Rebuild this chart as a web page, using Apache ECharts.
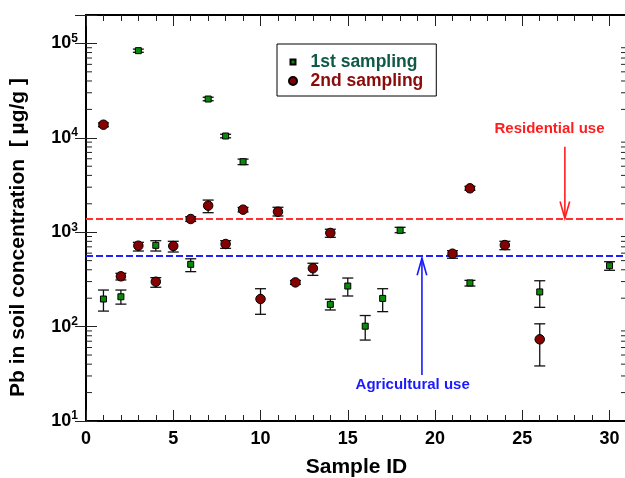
<!DOCTYPE html>
<html>
<head>
<meta charset="utf-8">
<script src="https://cdn.jsdelivr.net/npm/echarts@6/dist/echarts.min.js"></script>
<style>html,body{margin:0;padding:0;background:#fff}#c{width:625px;height:478px}</style>
</head>
<body>
<div id="c"></div>
<script>
// ---- data ----
const firstIds   = [1, 2, 3, 4, 6, 7, 8, 9, 14, 15, 16, 17, 18, 22, 26, 30];
const firstVals  = [196, 207, 83800, 726, 457, 25760, 10450, 5580, 172, 269, 101, 199, 1047, 290, 233, 442];
const firstLow   = [146, 173, 80500, 632, 382, 24700, 10000, 5200, 150, 211, 72, 144, 988, 269, 160, 395];
const firstHigh  = [244, 244, 87000, 813, 523, 26900, 10900, 5950, 195, 327, 131, 252, 1127, 309, 306, 487];

const secondIds  = [1, 2, 3, 4, 5, 6, 7, 8, 9, 10, 11, 12, 13, 14, 21, 22, 24, 26];
const secondVals = [13770, 341, 720, 299, 714, 1380, 1910, 750, 1733, 196, 1648, 294, 415, 982, 592, 2917, 731, 73.3];
const secondLow  = [13100, 312, 632, 261, 617, 1300, 1610, 675, 1640, 135, 1486, 280, 349, 883, 530, 2780, 653, 38.3];
const secondHigh = [14400, 367, 781, 330, 801, 1460, 2190, 813, 1830, 252, 1837, 308, 469, 1075, 637, 3060, 801, 107];

const residentialLimit  = 1400;
const agriculturalLimit = 560;

// arrows: [x, fromValue, toValue]
const arrowNames  = ['Residential use', 'Agricultural use'];
const arrowX      = [27.44, 19.25];
const arrowFrom   = [8050, 30.7];
const arrowTo     = [1400, 530];
const arrowLabelX = [26.56, 18.72];
const arrowLabelY = [12400, 24.0];
const arrowColors = ['#ff1e1e', '#1a1aff'];

const xTicks = [0, 5, 10, 15, 20, 25, 30];
const yMin = 10, yMax = 200000;
const logMinor = [];
for (let k = 1; k <= 5; k++) for (let m = 2; m <= 9; m++) { const v = m * Math.pow(10, k); if (v < yMax) logMinor.push(v); }

const FONT = '"Liberation Sans", Arial, sans-serif';

const chart = echarts.init(document.getElementById('c'));

function errRender(params, api) {
  const x = api.value(0), lo = api.value(1), hi = api.value(2);
  const p1 = api.coord([x, lo]), p2 = api.coord([x, hi]);
  const hw = 5.5;
  const st = { stroke: '#111', lineWidth: 1.3 };
  return { type: 'group', children: [
    { type: 'line', shape: { x1: p1[0], y1: p1[1], x2: p2[0], y2: p2[1] }, style: st },
    { type: 'line', shape: { x1: p1[0] - hw, y1: p1[1], x2: p1[0] + hw, y2: p1[1] }, style: st },
    { type: 'line', shape: { x1: p2[0] - hw, y1: p2[1], x2: p2[0] + hw, y2: p2[1] }, style: st }
  ]};
}

const axisCommon = {
  axisLine: { show: true, lineStyle: { color: '#000', width: 2 } },
  axisTick: { show: true, inside: true, length: 11, lineStyle: { color: '#222', width: 1 } },
  splitLine: { show: false }
};

chart.setOption({
  animation: false,
  grid: { left: 86, top: 15, width: 541, height: 406, containLabel: false, outerBoundsMode: 'none' },
  legend: {
    left: 277, top: 44, orient: 'vertical',
    padding: [9, 13, 6, 11], itemGap: 1, itemWidth: 25, itemHeight: 8,
    borderColor: '#000', borderWidth: 1,
    textStyle: { fontFamily: FONT, fontWeight: 'bold', fontSize: 17.5 },
    selectedMode: false,
    data: [
      { name: '1st sampling', icon: 'path://M0,0M8,8M1.5,1.5h5v5h-5z', textStyle: { color: '#0f5a46' } },
      { name: '2nd sampling', textStyle: { color: '#8b0a0a' } }
    ]
  },
  xAxis: [
    Object.assign({}, axisCommon, {
      type: 'value', min: 0, max: 31, interval: 5, position: 'bottom',
      minorTick: { show: true, splitNumber: 5, length: 6, lineStyle: { color: '#222', width: 1 } },
      axisLabel: { show: true, showMaxLabel: false, margin: 9, color: '#000', fontFamily: FONT, fontWeight: 'bold', fontSize: 18,
        formatter: v => (xTicks.indexOf(v) >= 0 ? String(v) : '') },
      name: 'Sample ID', nameLocation: 'middle', nameGap: 36,
      nameTextStyle: { color: '#000', fontFamily: FONT, fontWeight: 'bold', fontSize: 21 }
    }),
    Object.assign({}, axisCommon, {
      type: 'value', min: 0, max: 31, interval: 5, position: 'top',
      minorTick: { show: true, splitNumber: 5, length: 6, lineStyle: { color: '#222', width: 1 } },
      axisLabel: { show: false }
    })
  ],
  yAxis: [
    Object.assign({}, axisCommon, {
      type: 'log', logBase: 10, min: yMin, max: yMax, position: 'left',
      axisLabel: {
        show: true, margin: 8, color: '#000', fontFamily: FONT, fontWeight: 'bold',
        formatter: v => {
          const e = Math.log10(v);
          if (Math.abs(e - Math.round(e)) > 1e-6) return '';
          return '{b|10}{s|' + Math.round(e) + '}';
        },
        rich: {
          b: { fontFamily: FONT, fontWeight: 'bold', fontSize: 18, lineHeight: 22, color: '#000' },
          s: { fontFamily: FONT, fontWeight: 'bold', fontSize: 12, lineHeight: 12, verticalAlign: 'top', color: '#000' }
        }
      }
    }),
    Object.assign({}, axisCommon, {
      type: 'log', logBase: 10, min: yMin, max: yMax, position: 'right',
      axisLabel: { show: false }
    })
  ],
  graphic: [{
    type: 'text', left: 8, top: 78, rotation: Math.PI / 2,
    style: { text: 'Pb in soil concentration  [ µg/g ]', fill: '#000', font: 'bold 21px ' + FONT }
  }],
  series: [
    {
      name: 'minorLog', type: 'custom', silent: true, z: 1,
      data: logMinor.map(v => [0, v]),
      renderItem: (params, api) => {
        const cs = params.coordSys;
        const y = api.coord([0, api.value(1)])[1];
        const st = { stroke: '#222', lineWidth: 1 };
        return { type: 'group', children: [
          { type: 'line', shape: { x1: cs.x, y1: y, x2: cs.x + 6, y2: y }, style: st },
          { type: 'line', shape: { x1: cs.x + cs.width - 6, y1: y, x2: cs.x + cs.width, y2: y }, style: st }
        ]};
      }
    },
    {
      name: 'refLines', type: 'scatter', data: [], silent: true,
      markLine: {
        silent: true, symbol: ['none', 'none'], label: { show: false },
        data: [
          { yAxis: residentialLimit, lineStyle: { color: '#ff3030', type: [7, 3], width: 2 } },
          { yAxis: agriculturalLimit, lineStyle: { color: '#2020ff', type: [7, 3], width: 2 } }
        ]
      }
    },
    {
      name: 'arrows', type: 'custom', silent: true, z: 3,
      data: arrowX.map((x, i) => [x, arrowFrom[i], arrowTo[i], arrowLabelX[i], arrowLabelY[i]]),
      renderItem: (params, api) => {
        const i = params.dataIndex;
        const a = api.coord([api.value(0), api.value(1)]);
        const b = api.coord([api.value(0), api.value(2)]);
        const l = api.coord([api.value(3), api.value(4)]);
        const dir = b[1] > a[1] ? 1 : -1;
        const col = arrowColors[i];
        const st = { stroke: col, lineWidth: 1.6, fill: null };
        return { type: 'group', children: [
          { type: 'line', shape: { x1: a[0], y1: a[1], x2: b[0], y2: b[1] }, style: st },
          { type: 'polyline', shape: { points: [[b[0] - 4.8, b[1] - dir * 17], [b[0], b[1]], [b[0] + 4.8, b[1] - dir * 17]] }, style: st },
          { type: 'text', x: l[0], y: l[1], style: { text: arrowNames[i], fill: col, font: 'bold 15px ' + FONT, align: 'center', verticalAlign: 'middle' } }
        ]};
      }
    },
    {
      name: 'err1', type: 'custom', silent: true, z: 4,
      data: firstIds.map((x, i) => [x, firstLow[i], firstHigh[i]]),
      encode: { x: 0, y: [1, 2] },
      renderItem: errRender
    },
    {
      name: 'err2', type: 'custom', silent: true, z: 4,
      data: secondIds.map((x, i) => [x, secondLow[i], secondHigh[i]]),
      encode: { x: 0, y: [1, 2] },
      renderItem: errRender
    },
    {
      name: '1st sampling', type: 'scatter', symbol: 'rect', symbolSize: 6, z: 6,
      itemStyle: { color: '#0a8a0a', borderColor: '#000', borderWidth: 1, opacity: 1 },
      data: firstIds.map((x, i) => [x, firstVals[i]])
    },
    {
      name: '2nd sampling', type: 'scatter', symbol: 'circle', symbolSize: 9.5, z: 5,
      itemStyle: { color: '#850000', borderColor: '#000', borderWidth: 1, opacity: 1 },
      data: secondIds.map((x, i) => [x, secondVals[i]])
    }
  ]
});
</script>
</body>
</html>
